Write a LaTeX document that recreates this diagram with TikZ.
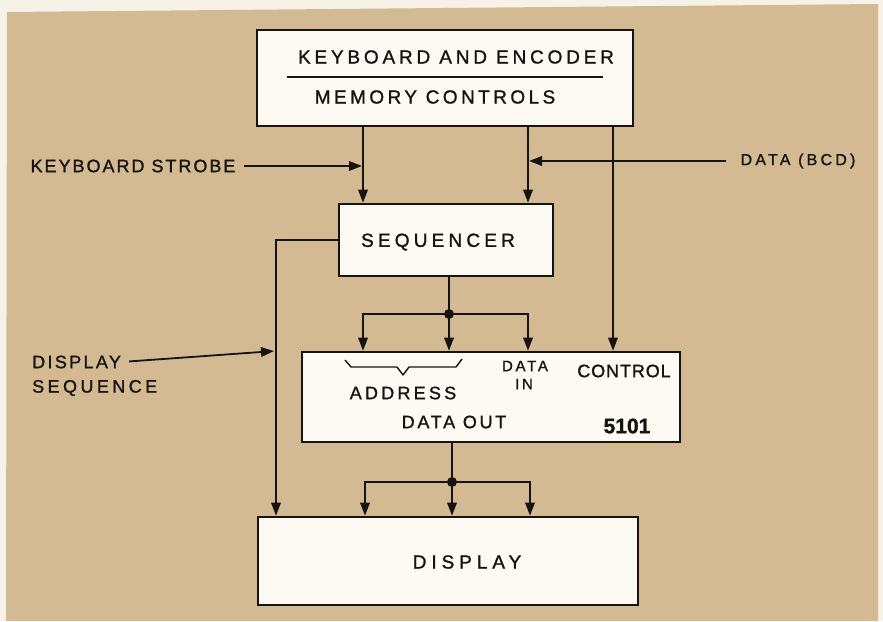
\documentclass[tikz,border=0pt]{standalone}
\usepackage{fontspec}
\newfontfamily\hand[FakeBold=1.2]{Liberation Sans}
\usetikzlibrary{arrows.meta,calc}
\definecolor{paper}{RGB}{212,186,146}
\definecolor{boxfill}{RGB}{252,250,243}
\definecolor{ink}{RGB}{22,20,18}
\definecolor{margin}{RGB}{246,242,232}
\newcommand\hw[3]{\fontsize{#1}{#1}\selectfont\addfontfeatures{LetterSpace=#2}#3}
\begin{document}
\begin{tikzpicture}[x=1pt,y=-1pt,
  box/.style={draw=ink, line width=2.6pt, fill=boxfill, inner sep=0pt, rectangle},
  wire/.style={draw=ink, line width=1.8pt},
  arr/.style={wire, -{Triangle[length=13pt,width=9.5pt]}},
  lbl/.style={font=\hand, text=ink, inner sep=0pt},
  dot/.style={circle, fill=ink, inner sep=0pt, minimum size=10pt}]
\useasboundingbox (0,0) rectangle (883,621);
\fill[margin] (0,0) rectangle (883,621);
\fill[paper] (7,12) -- (878,4) -- (878,621) -- (6,621) -- cycle;

% boxes
\node[box, minimum width=376pt, minimum height=96pt] (kb) at (445,78) {};
\node[box, minimum width=214pt, minimum height=72pt] (seq) at (446,240) {};
\node[box, minimum width=378pt, minimum height=90pt] (mem) at (491,397) {};
\node[box, minimum width=380pt, minimum height=88pt] (disp) at (448,561) {};

% texts in boxes
\node[lbl] (kbt) at (456,57) {\hw{19}{20}{KEYBOARD AND ENCODER}};
\draw[ink, line width=2.2pt] (287,77) -- (603,77);
\node[lbl] (mct) at (435,97) {\hw{19}{18}{MEMORY CONTROLS}};
\node[lbl] (seqt) at (438,242) {\hw{19}{22}{SEQUENCER}};
\node[lbl] (addr) at (403,393) {\hw{18}{18}{ADDRESS}};
\node[lbl] (din1) at (525,366) {\hw{15}{18}{DATA}};
\node[lbl] (din2) at (524,384) {\hw{15}{18}{IN}};
\node[lbl] (ctl) at (624,371) {\hw{18}{5}{CONTROL}};
\node[lbl] (dout) at (454,422) {\hw{18}{15}{DATA OUT}};
\node[lbl, font=\hand\bfseries] (num) at (627,426) {\fontsize{21}{21}\selectfont 5101};
\node[lbl] (dispt) at (467,562) {\hw{19}{26}{DISPLAY}};
\draw[ink, line width=1.4pt, line join=round]
  (345,360) -- (351,367) -- (397,367) -- (403,375) -- (409,367) -- (456,367) -- (462,359);

% outside labels
\node[lbl] (ks) at (133,166) {\hw{18}{11}{KEYBOARD STROBE}};
\node[lbl] (bcd) at (798,161) {\hw{16}{20}{DATA (BCD)}};
\node[lbl, anchor=west] (dsa) at (32,362) {\hw{18}{13}{DISPLAY}};
\node[lbl, anchor=west] (dsb) at (32,388) {\hw{18}{19}{SEQUENCE}};

% helper coordinates
\coordinate (xa) at (363,0);
\coordinate (xb) at (528,0);
\coordinate (xc) at (613,0);
\coordinate (xl) at (276,0);
\coordinate (xs) at (449,0);
\coordinate (xd1) at (365,0);
\coordinate (xd2) at (452,0);
\coordinate (xd3) at (530,0);
\coordinate (dstip) at (275,351);

\node[dot] (j1) at (449,314) {};
\node[dot] (j2) at (452,482) {};

% connectors
\draw[arr] (xa |- kb.south) -- (xa |- seq.north);
\draw[arr] (xb |- kb.south) -- (xb |- seq.north);
\draw[arr] (xc |- kb.south) -- (xc |- mem.north);
\draw[arr, shorten <=8pt, shorten >=1pt] (ks.east) -- (xa |- ks.east);
\draw[arr, shorten <=14pt, shorten >=1pt] (bcd.west) -- (xb |- bcd.west);

\draw[wire] (xs |- seq.south) -- (j1.center);
\draw[arr] (j1.center) -- (xs |- mem.north);
\draw[arr] (j1.center) -| (xa |- mem.north);
\draw[arr] (j1.center) -| (xb |- mem.north);

\draw[arr] (seq.west) -| (xl |- disp.north);
\draw[arr, shorten <=8pt, shorten >=1pt] (dsa.east) -- (dstip);

\draw[wire] (xd2 |- mem.south) -- (j2.center);
\draw[arr] (j2.center) -- (xd2 |- disp.north);
\draw[arr] (j2.center) -| (xd1 |- disp.north);
\draw[arr] (j2.center) -| (xd3 |- disp.north);
\end{tikzpicture}
\end{document}
